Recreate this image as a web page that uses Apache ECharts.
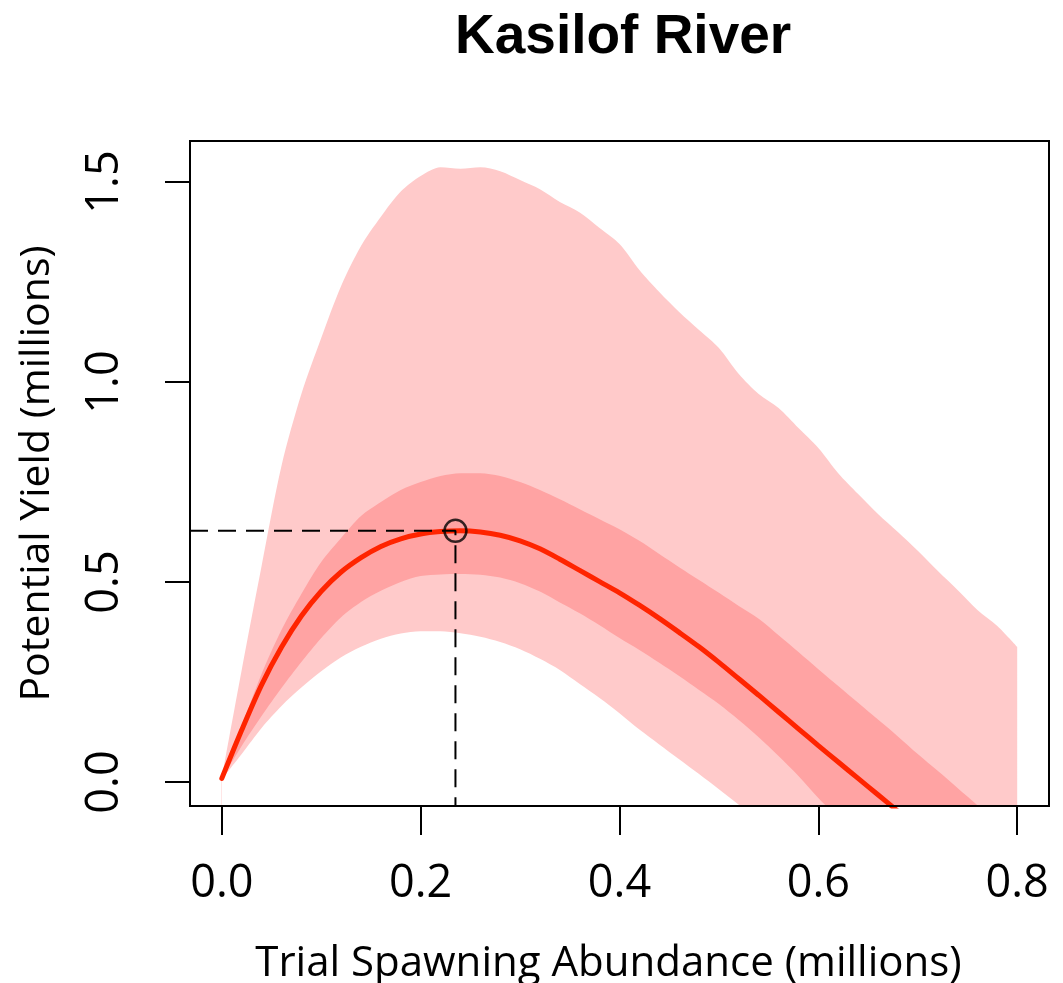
<!DOCTYPE html>
<html>
<head>
<meta charset="utf-8">
<script src="https://cdn.jsdelivr.net/npm/echarts@6/dist/echarts.min.js"></script>
<style>html,body{margin:0;padding:0;background:#fff;}#c{width:1063px;height:983px;}</style>
</head>
<body>
<div id="c"></div>
<script>
// Trial spawning abundance (millions), step 0.02
const xs = [0.00,0.02,0.04,0.06,0.08,0.10,0.12,0.14,0.16,0.18,0.20,0.22,0.24,0.26,0.28,0.30,0.32,0.34,0.36,0.38,0.40,
            0.42,0.44,0.46,0.48,0.50,0.52,0.54,0.56,0.58,0.60,0.62,0.64,0.66,0.68,0.70,0.72,0.74,0.76,0.78,0.80];
// outer (light) band, upper bound
const outerUpper = [0.01,0.28,0.54,0.79,0.97,1.11,1.24,1.34,1.413,1.476,1.515,1.537,1.533,1.537,1.527,1.505,1.482,1.45,1.424,1.385,1.345,
                    1.28,1.225,1.175,1.13,1.085,1.02,0.97,0.935,0.885,0.835,0.772,0.72,0.67,0.625,0.578,0.528,0.48,0.43,0.39,0.338];
// inner (dark) band, upper bound
const innerUpper = [0.01,0.14,0.27,0.38,0.47,0.55,0.61,0.665,0.70,0.73,0.75,0.765,0.772,0.772,0.765,0.75,0.73,0.707,0.682,0.657,0.632,
                    0.603,0.57,0.537,0.505,0.473,0.44,0.408,0.367,0.325,0.282,0.24,0.198,0.156,0.114,0.07,0.028,-0.015,-0.058,-0.1];
// median potential yield
const median = [0.009,0.13,0.243,0.337,0.415,0.477,0.525,0.561,0.589,0.608,0.62,0.626,0.628,0.625,0.617,0.603,0.583,0.557,0.529,0.501,0.473,
                0.442,0.409,0.374,0.338,0.299,0.258,0.217,0.175,0.133,0.091,0.05,0.009,-0.032,-0.073];
// inner (dark) band, lower bound
const innerLower = [0.008,0.09,0.165,0.235,0.30,0.36,0.412,0.45,0.478,0.50,0.515,0.519,0.52,0.518,0.511,0.497,0.476,0.449,0.422,0.392,0.36,
                    0.33,0.298,0.265,0.23,0.195,0.155,0.112,0.065,0.015,-0.04,-0.09];
// outer (light) band, lower bound
const outerLower = [0.007,0.07,0.135,0.19,0.236,0.277,0.312,0.338,0.358,0.371,0.377,0.377,0.372,0.363,0.35,0.332,0.308,0.28,0.245,0.21,0.172,
                    0.131,0.094,0.057,0.02,-0.018,-0.057,-0.097];
// maximum of the median curve
const peakX = 0.235, peakY = 0.628;
const xTicks = [0.0,0.2,0.4,0.6,0.8];
const yTicks = [0.0,0.5,1.0,1.5];
const xRange = [-0.032, 0.832];
const yRange = [-0.06, 1.6025];

const pairs = arr => arr.map((v,i) => [xs[i], v]);
const LIGHT = '#FFCACA', DARK = '#FFA3A3', RED = '#FF2400';
const AX_FONT = 'Open Sans';

function area(name, arr, color, z) {
  return {
    name, type: 'line', data: pairs(arr), symbol: 'none', smooth: 0.3, clip: true, z,
    lineStyle: { width: 0, color }, itemStyle: { color },
    areaStyle: { color, opacity: 1, origin: 'start' }, silent: true
  };
}

const chart = echarts.init(document.getElementById('c'), null, { renderer: 'canvas' });
chart.setOption({
  animation: false,
  backgroundColor: '#fff',
  title: {
    text: 'Kasilof River', left: 450, top: 5,
    textStyle: { fontFamily: 'Liberation Sans', fontWeight: 'bold', fontSize: 55, color: '#000' }
  },
  grid: { left: 190, right: 14, top: 141, bottom: 177, show: true, borderColor: '#000', borderWidth: 2, z: 10,
          backgroundColor: 'transparent', containLabel: false, outerBoundsMode: 'none' },
  xAxis: {
    type: 'value', min: xRange[0], max: xRange[1],
    name: 'Trial Spawning Abundance (millions)', nameLocation: 'middle', nameGap: 137,
    nameTextStyle: { fontFamily: AX_FONT, fontSize: 42, color: '#000', padding: [0, 22, 0, 0] },
    axisLine: { show: false, onZero: false },
    splitLine: { show: false },
    axisTick: { show: true, inside: false, customValues: xTicks, length: 29, lineStyle: { color: '#000', width: 2 } },
    axisLabel: { customValues: xTicks, formatter: v => v.toFixed(1), margin: 56, fontFamily: AX_FONT, fontSize: 45, color: '#000' }
  },
  yAxis: {
    type: 'value', min: yRange[0], max: yRange[1],
    name: 'Potential Yield (millions)', nameLocation: 'middle', nameGap: 132, nameRotate: 90,
    nameTextStyle: { fontFamily: AX_FONT, fontSize: 41, color: '#000' },
    axisLine: { show: false, onZero: false },
    splitLine: { show: false },
    axisTick: { show: true, inside: false, customValues: yTicks, length: 25, lineStyle: { color: '#000', width: 2 } },
    axisLabel: { customValues: yTicks, rotate: 90, formatter: v => v.toFixed(1), margin: 62, fontFamily: AX_FONT, fontSize: 45, color: '#000' }
  },
  series: [
    area('outerUpper', outerUpper, LIGHT, 2),
    area('innerUpper', innerUpper, DARK, 3),
    area('innerLower', innerLower, LIGHT, 4),
    area('outerLower', outerLower, '#FFFFFF', 5),
    {
      name: 'median', type: 'line', data: pairs(median), symbol: 'none', smooth: 0.3, clip: true, z: 6,
      lineStyle: { color: RED, width: 5, cap: 'round' }
    },
    {
      name: 'peakGuide', type: 'line', symbol: 'none', clip: true, z: 7,
      data: [[xRange[0], peakY], [peakX, peakY], [peakX, yRange[0]]],
      lineStyle: { color: '#000', width: 2, type: [18, 10] }
    },
    {
      name: 'peak', type: 'scatter', data: [[peakX, peakY]], symbol: 'circle', symbolSize: 22, z: 8,
      itemStyle: { color: 'rgba(0,0,0,0)', borderColor: '#000', borderWidth: 2.5 }
    }
  ]
});
</script>
</body>
</html>
